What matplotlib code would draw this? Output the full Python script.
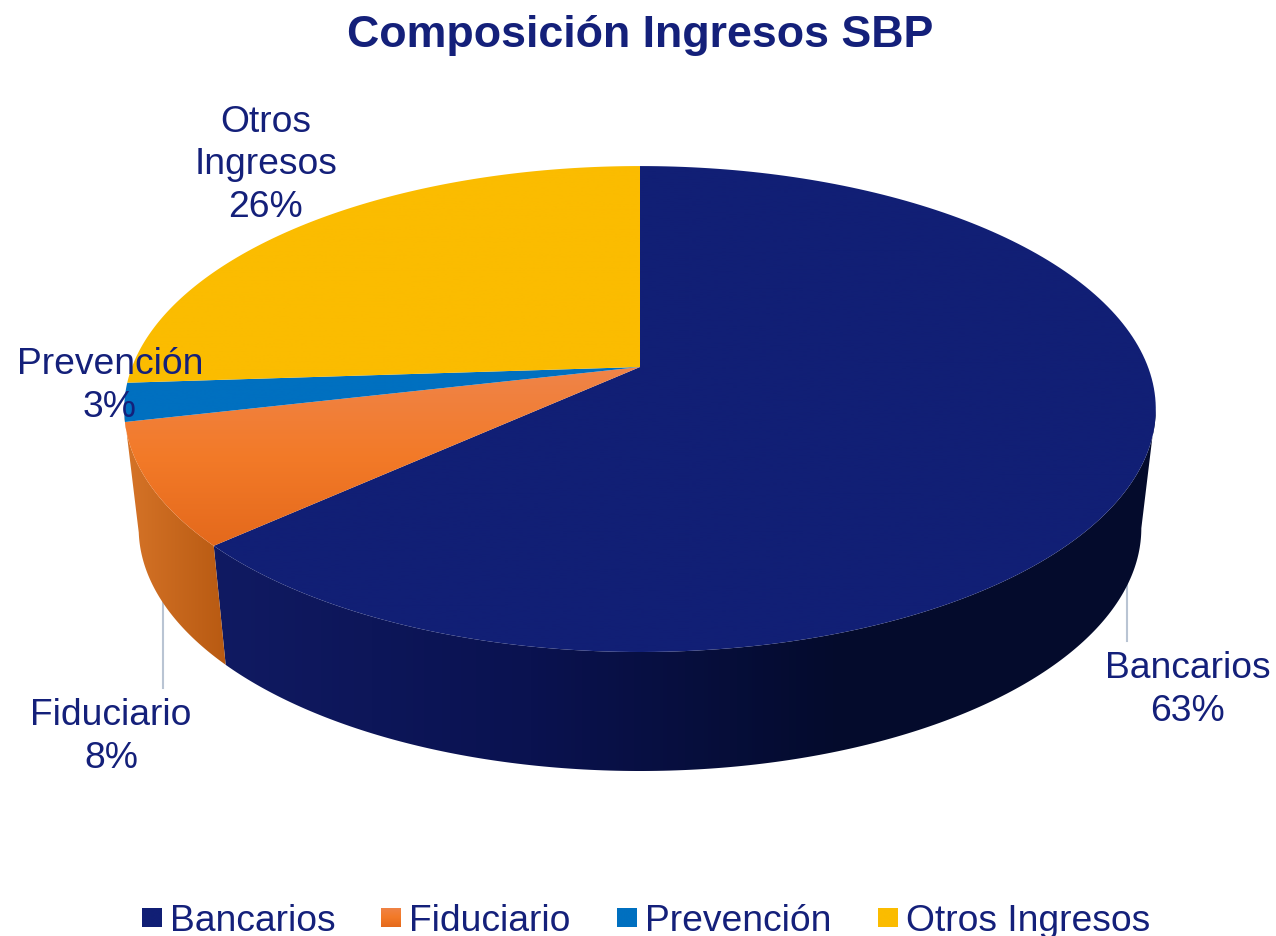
import numpy as np
import matplotlib
matplotlib.use("Agg")
import matplotlib.pyplot as plt
from matplotlib.colors import LinearSegmentedColormap
from matplotlib.patches import Polygon

plt.rcParams['font.family'] = ['Liberation Sans', 'DejaVu Sans']

categories = ['Bancarios', 'Fiduciario', 'Prevención', 'Otros Ingresos']
values = [63.3, 8.1, 2.55, 26.05]
title = 'Composición Ingresos SBP'

INK = '#14207a'
LEADER = '#b9c4d3'
top_colors = [['#111f75', '#111f75'], ['#ef8449', '#f37a28', '#e4691c'], ['#0070c0', '#0070c0'], ['#fbbc00', '#fbbc00']]
# wall colours, left to right
wall_colors = [['#101a62', '#0a1250', '#040b2c', '#040b2c'], ['#d67428', '#b85a12']]

# pie projection, in image pixels
CX, CY = 640, 368
R, A, K = 508, 235.7, 0.173
WALL_DY = 119
WALL_SX = 0.972


def top_xy(t):
    # t in degrees, clockwise from 12 o'clock
    u, v = np.sin(np.radians(t)), np.cos(np.radians(t))
    w = 1 + K * v
    return CX + R * u / w, CY - A * v / w


def bottom_xy(t):
    x, y = top_xy(t)
    return CX + (x - CX) * WALL_SX, y + WALL_DY


def gradient_patch(ax, pts, colors, horizontal=False, zorder=3):
    poly = Polygon(pts, closed=True, fc='none', ec='none', zorder=zorder)
    ax.add_patch(poly)
    cmap = LinearSegmentedColormap.from_list('g', colors)
    ramp = np.linspace(0, 1, 256).reshape(1, -1) if horizontal else np.linspace(0, 1, 256).reshape(-1, 1)
    im = ax.imshow(ramp, cmap=cmap, aspect='auto', zorder=zorder,
                   extent=(pts[:, 0].min(), pts[:, 0].max(), pts[:, 1].max(), pts[:, 1].min()))
    im.set_clip_path(poly)


fig = plt.figure(figsize=(12.76, 9.37), dpi=100)
ax = fig.add_axes([0, 0, 1, 1])

# leader lines
ax.plot([163, 163], [590, 689], color=LEADER, lw=1.5, zorder=1)
ax.plot([1127, 1127], [570, 642], color=LEADER, lw=1.5, zorder=1)

edges = np.concatenate([[0], np.cumsum(values)]) * 3.6

# side walls, only the front part shows
wall_spans = [(100, edges[1]), (edges[1], 259)]
for (t0, t1), colors in zip(wall_spans, wall_colors):
    ts = np.linspace(t0, t1, 200)
    xt, yt = top_xy(ts)
    xb, yb = bottom_xy(ts)
    pts = np.column_stack([np.r_[xt, xb[::-1]], np.r_[yt, yb[::-1]]])
    gradient_patch(ax, pts, colors, horizontal=True)

# top of the pie
for i in range(len(values)):
    ts = np.linspace(edges[i], edges[i + 1], 200)
    x, y = top_xy(ts)
    pts = np.column_stack([np.r_[CX, x], np.r_[CY, y]])
    gradient_patch(ax, pts, top_colors[i], zorder=4)

# labels
label_pos = [(1188, 690), (111, 737), (110, 386), (266, 165)]
label_names = ['Bancarios', 'Fiduciario', 'Prevención', 'Otros\nIngresos']
for (lx, ly), name, v in zip(label_pos, label_names, values):
    ax.text(lx, ly, f'{name}\n{round(v)}%', ha='center', va='center', fontsize=26.8, color=INK,
            linespacing=1.29, zorder=5)

ax.text(640, 35, title, ha='center', va='center', fontsize=32.2, fontweight='bold', color=INK, zorder=5)

# legend
legend_x = [142, 381, 617, 878]
for lx, name, colors in zip(legend_x, categories, top_colors):
    square = np.array([(lx, 909), (lx + 19.5, 909), (lx + 19.5, 928.5), (lx, 928.5)])
    gradient_patch(ax, square, colors)
    ax.text(lx + 28, 922, name, ha='left', va='center', fontsize=26.8, color=INK, zorder=5)

ax.set_xlim(0, 1276)
ax.set_ylim(937, 0)
ax.axis('off')
fig.savefig('out.png', dpi=100, facecolor='white')
